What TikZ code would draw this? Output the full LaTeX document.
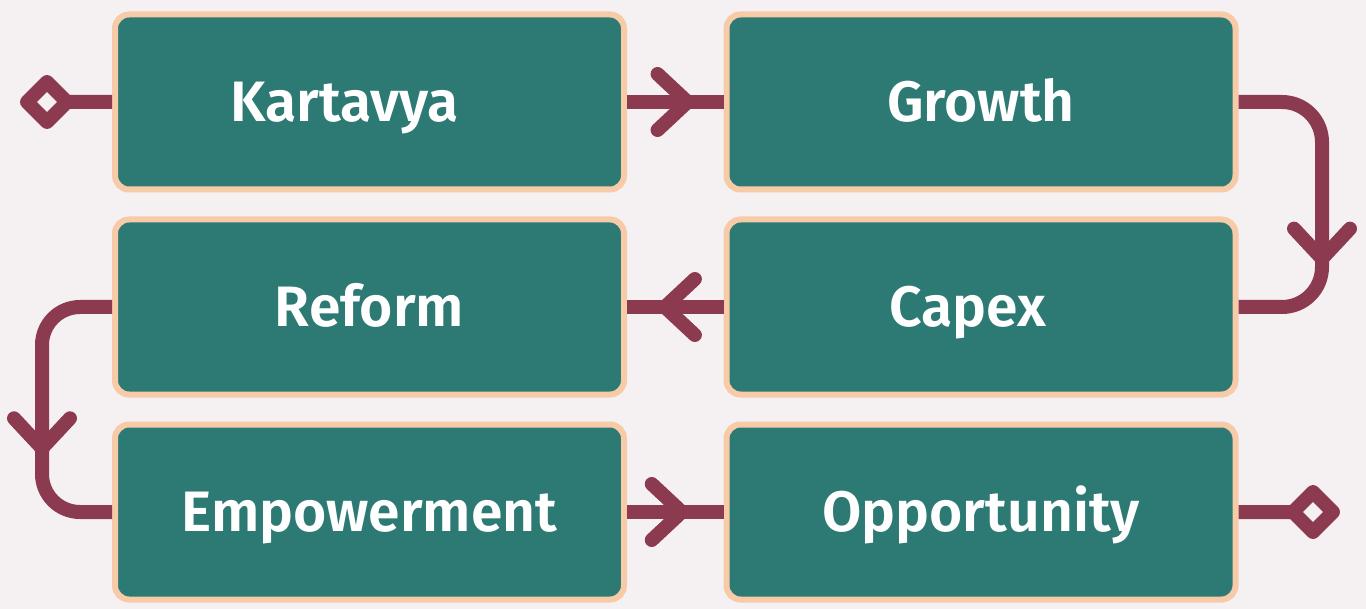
\documentclass[tikz,border=0pt]{standalone}
\usepackage{fontspec}
\setmainfont{Fira Sans}[BoldFont={Fira Sans SemiBold}]
\usetikzlibrary{arrows.meta,decorations.markings}
\definecolor{bgc}{HTML}{F5F0F1}
\definecolor{tealbox}{HTML}{2D7A74}
\definecolor{peach}{HTML}{F7CBA8}
\definecolor{maroon}{HTML}{8C3A4F}
\begin{document}
\begin{tikzpicture}[x=0.5pt,y=-0.5pt,
  stepbox/.style={draw=peach, fill=tealbox, line width=3pt, rounded corners=7pt,
    minimum width=254.5pt, minimum height=87.5pt, inner sep=0pt, text=white,
    font=\fontsize{28.5}{30}\selectfont\bfseries, text height=19.7pt, text depth=0pt},
  conn/.style={draw=maroon, line width=7pt},
  flow/.style={conn, decoration={markings, mark=at position #1 with
      {\pgfsetcornersarced{\pgfpointorigin}\arrow{Straight Barb[length=15pt,width=28pt,round]}}},
    postaction={decorate}},
  enddot/.style={draw=maroon, line width=7pt, line join=round, rotate=45,
    minimum size=14.1pt, inner sep=0pt, outer sep=0pt, fill=bgc},
]
\path[use as bounding box, fill=bgc] (0,0) rectangle (1366,609);

\node[stepbox] (kart) at (369.5,102) {Kartavya\hspace{25pt}\null};
\node[stepbox] (grow) at (981,102) {Growth};
\node[stepbox] (refo) at (369.5,307) {Reform};
\node[stepbox] (cape) at (981,307) {Capex\hspace{13pt}\null};
\node[stepbox] (empo) at (369.5,512) {Empowerment};
\node[stepbox] (oppo) at (981,512) {Opportunity};
\node[enddot] (startdot) at (47,102) {};
\node[enddot] (stopdot) at (1313,512) {};

\draw[conn] (startdot) -- (kart.west);
\draw[flow=0.7] (kart.east) -- (grow.west);
\draw[flow=115pt, rounded corners=20pt] (grow.east) -- ++(83.5,0) |- (cape.east);
\draw[flow=0.68] (cape.west) -- (refo.east);
\draw[flow=101pt, rounded corners=19pt] (refo.west) -- ++(-70,0) |- (empo.west);
\draw[flow=0.64] (empo.east) -- (oppo.west);
\draw[conn] (oppo.east) -- (stopdot);
\end{tikzpicture}
\end{document}
